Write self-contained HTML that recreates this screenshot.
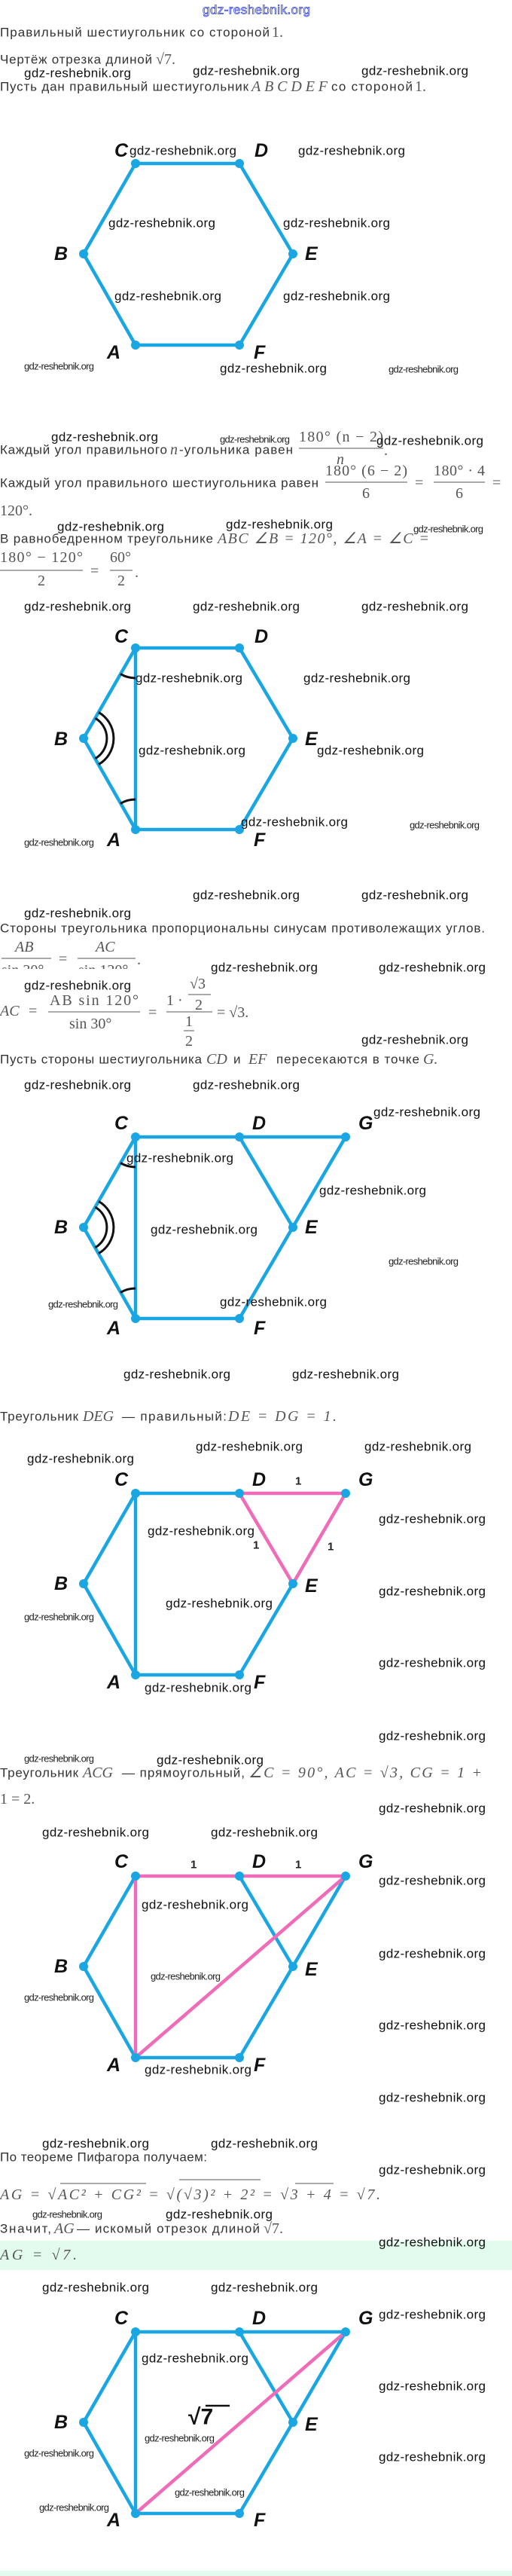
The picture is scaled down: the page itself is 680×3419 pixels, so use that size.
<!DOCTYPE html>
<html><head><meta charset="utf-8"><style>
html,body{margin:0;padding:0;background:#fff;}
svg{display:block;}
text{dominant-baseline:central;}
.t{font-family:"Liberation Sans","DejaVu Sans",sans-serif;font-size:17px;fill:#333;}
.m{font-family:"Liberation Serif",serif;font-size:20px;fill:#555;}
.mi{font-family:"Liberation Serif",serif;font-style:italic;font-size:20px;fill:#555;}
.w{font-family:"Liberation Sans",sans-serif;font-size:17px;fill:#111;}
.ws{font-family:"Liberation Sans",sans-serif;font-size:13px;fill:#222;}
.L{font-family:"Liberation Sans",sans-serif;font-weight:bold;font-style:italic;font-size:25px;fill:#111;}
.n{font-family:"Liberation Sans",sans-serif;font-weight:bold;font-size:15px;fill:#222;}
.bl{stroke:#1aa6e2;stroke-width:4.5;fill:none;stroke-linecap:round;}
.pk{stroke:#ee6cb8;stroke-width:4.5;fill:none;stroke-linecap:round;}
.dot{fill:#1aa6e2;}
.arc{stroke:#111;stroke-width:3;fill:none;}
</style></head><body>
<svg width="680" height="3419" viewBox="0 0 680 3419" xmlns="http://www.w3.org/2000/svg">
<rect width="680" height="3419" fill="#fff"/>
<text x="269" y="13" class="w" style="fill:#fff;stroke:#3344dd;stroke-width:0.8" textLength="143">gdz-reshebnik.org</text>

<text x="0" y="43" class="t" textLength="358">Правильный шестиугольник со стороной</text><text x="361" y="43" class="m">1.</text>
<text x="0" y="79" class="t" textLength="202">Чертёж отрезка длиной</text><text x="207" y="79" class="m">√7.</text>
<text x="32" y="97" class="w" textLength="142">gdz-reshebnik.org</text>
<text x="256" y="94" class="w" textLength="142">gdz-reshebnik.org</text>
<text x="480" y="94" class="w" textLength="142">gdz-reshebnik.org</text>
<text x="0" y="115" class="t" textLength="330">Пусть дан правильный шестиугольник</text><text x="334" y="115" class="mi" textLength="101">ABCDEF</text><text x="440" y="115" class="t" textLength="108">со стороной</text><text x="551" y="115" class="m">1.</text>

<!-- HEX 1 -->
<g transform="translate(0,217)">
<polyline class="bl" points="180,0 318,0 389,120 318,241 180,241 111,120 180,0"/>
<g class="dot"><circle cx="180" cy="0" r="6"/><circle cx="318" cy="0" r="6"/><circle cx="389" cy="120" r="6"/><circle cx="318" cy="241" r="6"/><circle cx="180" cy="241" r="6"/><circle cx="111" cy="120" r="6"/></g>
<text x="152" y="-17" class="L">C</text><text x="338" y="-17" class="L">D</text><text x="72" y="120" class="L">B</text><text x="405" y="120" class="L">E</text><text x="142" y="251" class="L">A</text><text x="337" y="251" class="L">F</text>
</g>
<text x="172" y="200" class="w" textLength="142">gdz-reshebnik.org</text>
<text x="396" y="200" class="w" textLength="142">gdz-reshebnik.org</text>
<text x="144" y="296" class="w" textLength="142">gdz-reshebnik.org</text>
<text x="376" y="296" class="w" textLength="142">gdz-reshebnik.org</text>
<text x="152" y="393" class="w" textLength="142">gdz-reshebnik.org</text>
<text x="376" y="393" class="w" textLength="142">gdz-reshebnik.org</text>
<text x="32" y="486" class="ws" textLength="93">gdz-reshebnik.org</text>
<text x="292" y="489" class="w" textLength="142">gdz-reshebnik.org</text>
<text x="516" y="490" class="ws" textLength="93">gdz-reshebnik.org</text>

<!-- Angles text -->
<text x="68" y="580" class="w" textLength="142">gdz-reshebnik.org</text>
<text x="292" y="583" class="ws" textLength="93">gdz-reshebnik.org</text>
<text x="0" y="597" class="t" textLength="222">Каждый угол правильного</text><text x="226" y="597" class="mi">n</text><text x="238" y="597" class="t" textLength="151">-угольника равен</text>
<text x="397" y="580" class="m" textLength="112">180° (n − 2)</text>
<line x1="397" y1="595" x2="509" y2="595" stroke="#555" stroke-width="1"/>
<text x="447" y="610" class="mi">n</text><text x="510" y="598" class="m">.</text>
<text x="500" y="585" class="w" textLength="142">gdz-reshebnik.org</text>
<text x="0" y="641" class="t" textLength="423">Каждый угол правильного шестиугольника равен</text>
<text x="432" y="625" class="m" textLength="109">180° (6 − 2)</text>
<line x1="432" y1="640" x2="541" y2="640" stroke="#555" stroke-width="1"/>
<text x="481" y="655" class="m">6</text>
<text x="551" y="641" class="m">=</text>
<text x="576" y="625" class="m" textLength="68">180° · 4</text>
<line x1="576" y1="640" x2="644" y2="640" stroke="#555" stroke-width="1"/>
<text x="605" y="655" class="m">6</text>
<text x="654" y="641" class="m">=</text>
<text x="0" y="678" class="m">120°.</text>
<text x="76" y="699" class="w" textLength="142">gdz-reshebnik.org</text>
<text x="300" y="696" class="w" textLength="142">gdz-reshebnik.org</text>
<text x="549" y="702" class="ws" textLength="93">gdz-reshebnik.org</text>
<text x="0" y="715" class="t" textLength="283">В равнобедренном треугольнике</text><text x="289" y="715" class="mi" textLength="281">ABC ∠B = 120°, ∠A = ∠C =</text>
<text x="0" y="740" class="m" textLength="110">180° − 120°</text>
<line x1="0" y1="757" x2="110" y2="757" stroke="#555" stroke-width="1"/>
<text x="50" y="771" class="m">2</text>
<text x="120" y="758" class="m">=</text>
<text x="146" y="740" class="m">60°</text>
<line x1="146" y1="757" x2="176" y2="757" stroke="#555" stroke-width="1"/>
<text x="156" y="771" class="m">2</text><text x="179" y="760" class="m">.</text>
<text x="32" y="805" class="w" textLength="142">gdz-reshebnik.org</text>
<text x="256" y="805" class="w" textLength="142">gdz-reshebnik.org</text>
<text x="480" y="805" class="w" textLength="142">gdz-reshebnik.org</text>

<!-- HEX 2 -->
<g transform="translate(0,860)">
<polyline class="bl" points="180,0 318,0 389,120 318,241 180,241 111,120 180,0"/>
<line class="bl" x1="180" y1="0" x2="180" y2="241"/>
<path class="arc" d="M126.5,93.2 A31,31 0 0 1 126.5,146.8"/>
<path class="arc" d="M131,85.4 A40,40 0 0 1 131,154.6"/>
<path class="arc" d="M160,34.6 A40,40 0 0 0 180,40"/>
<path class="arc" d="M160,206.4 A40,40 0 0 1 180,201"/>
<g class="dot"><circle cx="180" cy="0" r="6"/><circle cx="318" cy="0" r="6"/><circle cx="389" cy="120" r="6"/><circle cx="318" cy="241" r="6"/><circle cx="180" cy="241" r="6"/><circle cx="111" cy="120" r="6"/></g>
<text x="152" y="-15" class="L">C</text><text x="338" y="-15" class="L">D</text><text x="72" y="121" class="L">B</text><text x="405" y="121" class="L">E</text><text x="142" y="255" class="L">A</text><text x="337" y="255" class="L">F</text>
</g>
<text x="180" y="900" class="w" textLength="142">gdz-reshebnik.org</text>
<text x="403" y="900" class="w" textLength="142">gdz-reshebnik.org</text>
<text x="184" y="996" class="w" textLength="142">gdz-reshebnik.org</text>
<text x="421" y="996" class="w" textLength="142">gdz-reshebnik.org</text>
<text x="320" y="1091" class="w" textLength="142">gdz-reshebnik.org</text>
<text x="544" y="1095" class="ws" textLength="93">gdz-reshebnik.org</text>
<text x="32" y="1118" class="ws" textLength="93">gdz-reshebnik.org</text>

<!-- sines text -->
<text x="256" y="1188" class="w" textLength="142">gdz-reshebnik.org</text>
<text x="480" y="1188" class="w" textLength="142">gdz-reshebnik.org</text>
<text x="32" y="1212" class="w" textLength="142">gdz-reshebnik.org</text>
<text x="0" y="1232" class="t" textLength="644">Стороны треугольника пропорциональны синусам противолежащих углов.</text>
<text x="20" y="1257" class="mi">AB</text>
<line x1="2" y1="1272" x2="68" y2="1272" stroke="#555" stroke-width="1"/>
<text x="2" y="1288" class="m">sin  30°</text>
<text x="78" y="1273" class="m">=</text>
<text x="127" y="1257" class="mi">AC</text>
<line x1="103" y1="1272" x2="180" y2="1272" stroke="#555" stroke-width="1"/>
<text x="104" y="1288" class="m">sin  120°</text><text x="182" y="1274" class="m">.</text>
<rect x="0" y="1286" width="200" height="12" fill="#fff"/>
<text x="280" y="1284" class="w" textLength="142">gdz-reshebnik.org</text>
<text x="503" y="1284" class="w" textLength="142">gdz-reshebnik.org</text>
<text x="32" y="1308" class="w" textLength="142">gdz-reshebnik.org</text>
<text x="0" y="1342" class="mi">AC</text><text x="38" y="1342" class="m">=</text>
<text x="66" y="1328" class="m" textLength="118">AB  sin  120°</text>
<line x1="64" y1="1343" x2="186" y2="1343" stroke="#555" stroke-width="1"/>
<text x="92" y="1359" class="m">sin  30°</text>
<text x="197" y="1344" class="m">=</text>
<text x="221" y="1328" class="m">1 ·</text>
<text x="252" y="1306" class="m">√3</text>
<line x1="250" y1="1320" x2="280" y2="1320" stroke="#555" stroke-width="1"/>
<text x="259" y="1334" class="m">2</text>
<line x1="221" y1="1343" x2="282" y2="1343" stroke="#555" stroke-width="1"/>
<text x="246" y="1356" class="m">1</text>
<line x1="244" y1="1368" x2="258" y2="1368" stroke="#555" stroke-width="1"/>
<text x="246" y="1382" class="m">2</text>
<text x="288" y="1344" class="m">= √3.</text>
<text x="480" y="1380" class="w" textLength="142">gdz-reshebnik.org</text>
<text x="0" y="1406" class="t" textLength="268">Пусть стороны шестиугольника</text><text x="274" y="1406" class="mi">CD</text><text x="310" y="1406" class="t">и</text><text x="330" y="1406" class="mi">EF</text><text x="367" y="1406" class="t" textLength="190">пересекаются в точке</text><text x="562" y="1406" class="mi">G.</text>
<text x="32" y="1440" class="w" textLength="142">gdz-reshebnik.org</text>
<text x="256" y="1440" class="w" textLength="142">gdz-reshebnik.org</text>

<!-- HEX 3 -->
<g transform="translate(0,1509)">
<polyline class="bl" points="180,0 459,0 318,241 180,241 111,120 180,0"/>
<line class="bl" x1="318" y1="0" x2="389" y2="120"/>
<line class="bl" x1="180" y1="0" x2="180" y2="241"/>
<path class="arc" d="M126.5,93.2 A31,31 0 0 1 126.5,146.8"/>
<path class="arc" d="M131,85.4 A40,40 0 0 1 131,154.6"/>
<path class="arc" d="M160,34.6 A40,40 0 0 0 180,40"/>
<path class="arc" d="M160,206.4 A40,40 0 0 1 180,201"/>
<g class="dot"><circle cx="180" cy="0" r="6"/><circle cx="318" cy="0" r="6"/><circle cx="459" cy="0" r="6"/><circle cx="389" cy="120" r="6"/><circle cx="318" cy="241" r="6"/><circle cx="180" cy="241" r="6"/><circle cx="111" cy="120" r="6"/></g>
<text x="152" y="-18" class="L">C</text><text x="335" y="-18" class="L">D</text><text x="476" y="-18" class="L">G</text><text x="72" y="120" class="L">B</text><text x="405" y="120" class="L">E</text><text x="142" y="254" class="L">A</text><text x="337" y="254" class="L">F</text>
</g>
<text x="496" y="1476" class="w" textLength="142">gdz-reshebnik.org</text>
<text x="168" y="1537" class="w" textLength="142">gdz-reshebnik.org</text>
<text x="424" y="1580" class="w" textLength="142">gdz-reshebnik.org</text>
<text x="200" y="1632" class="w" textLength="142">gdz-reshebnik.org</text>
<text x="516" y="1674" class="ws" textLength="93">gdz-reshebnik.org</text>
<text x="64" y="1731" class="ws" textLength="93">gdz-reshebnik.org</text>
<text x="292" y="1728" class="w" textLength="142">gdz-reshebnik.org</text>

<text x="164" y="1824" class="w" textLength="142">gdz-reshebnik.org</text>
<text x="388" y="1824" class="w" textLength="142">gdz-reshebnik.org</text>
<text x="0" y="1880" class="t" textLength="104">Треугольник</text><text x="110" y="1880" class="mi">DEG</text><text x="162" y="1880" class="t" textLength="139">— правильный:</text><text x="303" y="1880" class="mi" textLength="144">DE = DG = 1.</text>
<text x="260" y="1920" class="w" textLength="142">gdz-reshebnik.org</text>
<text x="484" y="1920" class="w" textLength="142">gdz-reshebnik.org</text>
<text x="36" y="1936" class="w" textLength="142">gdz-reshebnik.org</text>

<!-- HEX 4 -->
<g transform="translate(0,1982)">
<polyline class="bl" points="180,0 318,0"/>
<polyline class="bl" points="389,120 318,241 180,241 111,120 180,0"/>
<line class="bl" x1="180" y1="0" x2="180" y2="241"/>
<polyline class="pk" points="318,0 459,0 389,120 318,0"/>
<g class="dot"><circle cx="180" cy="0" r="6"/><circle cx="318" cy="0" r="6"/><circle cx="459" cy="0" r="6"/><circle cx="389" cy="120" r="6"/><circle cx="318" cy="241" r="6"/><circle cx="180" cy="241" r="6"/><circle cx="111" cy="120" r="6"/></g>
<text x="152" y="-18" class="L">C</text><text x="335" y="-18" class="L">D</text><text x="476" y="-18" class="L">G</text><text x="72" y="120" class="L">B</text><text x="405" y="123" class="L">E</text><text x="142" y="251" class="L">A</text><text x="337" y="251" class="L">F</text>
<text x="392" y="-16" class="n">1</text><text x="336" y="69" class="n">1</text><text x="435" y="71" class="n">1</text>
</g>
<text x="503" y="2016" class="w" textLength="142">gdz-reshebnik.org</text>
<text x="196" y="2032" class="w" textLength="142">gdz-reshebnik.org</text>
<text x="503" y="2112" class="w" textLength="142">gdz-reshebnik.org</text>
<text x="220" y="2128" class="w" textLength="142">gdz-reshebnik.org</text>
<text x="32" y="2146" class="ws" textLength="93">gdz-reshebnik.org</text>
<text x="503" y="2207" class="w" textLength="142">gdz-reshebnik.org</text>
<text x="192" y="2240" class="w" textLength="142">gdz-reshebnik.org</text>
<text x="503" y="2304" class="w" textLength="142">gdz-reshebnik.org</text>
<text x="32" y="2334" class="ws" textLength="93">gdz-reshebnik.org</text>
<text x="208" y="2336" class="w" textLength="142">gdz-reshebnik.org</text>

<text x="0" y="2353" class="t" textLength="104">Треугольник</text><text x="110" y="2353" class="mi">ACG</text><text x="162" y="2353" class="t" textLength="163">— прямоугольный,</text><text x="330" y="2353" class="mi" textLength="310">∠C = 90°,  AC = √3,  CG = 1 +</text>
<text x="0" y="2388" class="m">1 = 2.</text>
<text x="503" y="2400" class="w" textLength="142">gdz-reshebnik.org</text>
<text x="56" y="2432" class="w" textLength="142">gdz-reshebnik.org</text>
<text x="280" y="2432" class="w" textLength="142">gdz-reshebnik.org</text>

<!-- HEX 5 -->
<g transform="translate(0,2490)">
<polyline class="bl" points="180,0 111,120 180,241 318,241 389,120 459,0"/>
<line class="bl" x1="318" y1="0" x2="389" y2="120"/>
<polyline class="pk" points="459,0 180,0 180,241 459,0"/>
<g class="dot"><circle cx="180" cy="0" r="6"/><circle cx="318" cy="0" r="6"/><circle cx="459" cy="0" r="6"/><circle cx="389" cy="120" r="6"/><circle cx="318" cy="241" r="6"/><circle cx="180" cy="241" r="6"/><circle cx="111" cy="120" r="6"/></g>
<text x="152" y="-19" class="L">C</text><text x="335" y="-19" class="L">D</text><text x="476" y="-19" class="L">G</text><text x="72" y="120" class="L">B</text><text x="405" y="124" class="L">E</text><text x="142" y="251" class="L">A</text><text x="337" y="251" class="L">F</text>
<text x="253" y="-15" class="n">1</text><text x="392" y="-15" class="n">1</text>
</g>
<text x="503" y="2496" class="w" textLength="142">gdz-reshebnik.org</text>
<text x="188" y="2528" class="w" textLength="142">gdz-reshebnik.org</text>
<text x="503" y="2593" class="w" textLength="142">gdz-reshebnik.org</text>
<text x="200" y="2623" class="ws" textLength="93">gdz-reshebnik.org</text>
<text x="32" y="2651" class="ws" textLength="93">gdz-reshebnik.org</text>
<text x="503" y="2688" class="w" textLength="142">gdz-reshebnik.org</text>
<text x="192" y="2747" class="w" textLength="142">gdz-reshebnik.org</text>
<text x="503" y="2784" class="w" textLength="142">gdz-reshebnik.org</text>
<text x="56" y="2845" class="w" textLength="142">gdz-reshebnik.org</text>
<text x="280" y="2845" class="w" textLength="142">gdz-reshebnik.org</text>
<text x="0" y="2863" class="t" textLength="275">По теореме Пифагора получаем:</text>
<text x="503" y="2880" class="w" textLength="142">gdz-reshebnik.org</text>

<text x="0" y="2913" class="mi" textLength="505">AG = √AC² + CG² = √(√3)² + 2² = √3 + 4 = √7.</text>
<line x1="80" y1="2898" x2="194" y2="2898" stroke="#555" stroke-width="1"/>
<line x1="238" y1="2893" x2="346" y2="2893" stroke="#555" stroke-width="1"/>
<line x1="392" y1="2898" x2="443" y2="2898" stroke="#555" stroke-width="1"/>
<text x="43" y="2939" class="ws" textLength="93">gdz-reshebnik.org</text>
<text x="220" y="2939" class="w" textLength="142">gdz-reshebnik.org</text>
<text x="0" y="2958" class="t" textLength="68">Значит,</text><text x="72" y="2958" class="mi">AG</text><text x="102" y="2958" class="t" textLength="243">— искомый отрезок длиной</text><text x="350" y="2958" class="m">√7.</text>
<rect x="0" y="2974" width="680" height="39" fill="#e3fbee"/>
<text x="0" y="2993" class="mi" textLength="102">AG = √7.</text>
<text x="503" y="2976" class="w" textLength="142">gdz-reshebnik.org</text>
<text x="56" y="3036" class="w" textLength="142">gdz-reshebnik.org</text>
<text x="280" y="3036" class="w" textLength="142">gdz-reshebnik.org</text>

<!-- HEX 6 -->
<g transform="translate(0,3095)">
<polyline class="bl" points="459,0 180,0 111,120 180,241 318,241 389,120 459,0"/>
<line class="bl" x1="318" y1="0" x2="389" y2="120"/>
<line class="bl" x1="180" y1="0" x2="180" y2="241"/>
<line class="pk" x1="180" y1="241" x2="459" y2="0"/>
<g class="dot"><circle cx="180" cy="0" r="6"/><circle cx="318" cy="0" r="6"/><circle cx="459" cy="0" r="6"/><circle cx="389" cy="120" r="6"/><circle cx="318" cy="241" r="6"/><circle cx="180" cy="241" r="6"/><circle cx="111" cy="120" r="6"/></g>
<text x="152" y="-18" class="L">C</text><text x="335" y="-18" class="L">D</text><text x="476" y="-18" class="L">G</text><text x="72" y="120" class="L">B</text><text x="405" y="123" class="L">E</text><text x="142" y="250" class="L">A</text><text x="337" y="250" class="L">F</text>
<text x="250" y="113" style="font-family:'Liberation Sans',sans-serif;font-weight:bold;font-size:30px;fill:#111">√7</text>
<line x1="273" y1="98" x2="305" y2="98" stroke="#111" stroke-width="2.5"/>
</g>
<text x="503" y="3072" class="w" textLength="142">gdz-reshebnik.org</text>
<text x="188" y="3130" class="w" textLength="142">gdz-reshebnik.org</text>
<text x="503" y="3167" class="w" textLength="142">gdz-reshebnik.org</text>
<text x="192" y="3236" class="ws" textLength="93">gdz-reshebnik.org</text>
<text x="32" y="3256" class="ws" textLength="93">gdz-reshebnik.org</text>
<text x="503" y="3261" class="w" textLength="142">gdz-reshebnik.org</text>
<text x="232" y="3308" class="ws" textLength="93">gdz-reshebnik.org</text>
<text x="52" y="3328" class="ws" textLength="93">gdz-reshebnik.org</text>
<rect x="0" y="3412" width="680" height="7" fill="#e3fbee"/>
</svg>
</body></html>
